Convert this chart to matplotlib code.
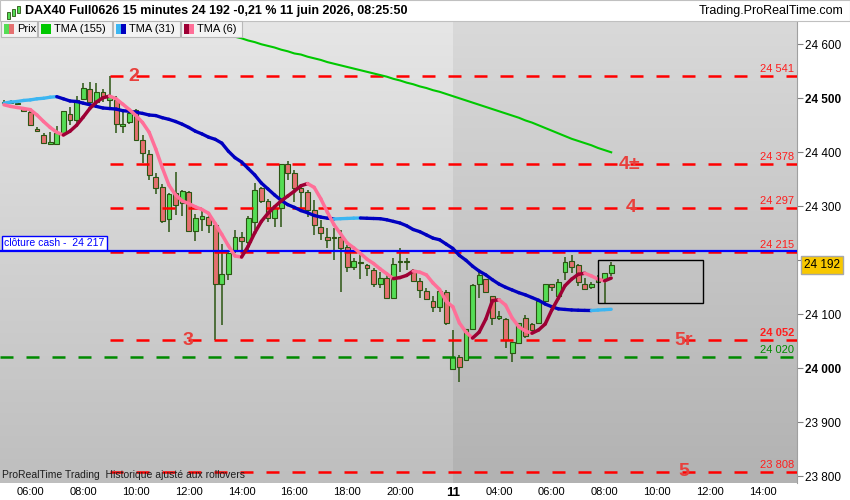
import numpy as np
import matplotlib.pyplot as plt
from matplotlib.collections import LineCollection
from matplotlib.patches import Rectangle

plt.rcParams['font.family'] = ['Liberation Sans', 'DejaVu Sans']

# DAX40 15 min bars: 10 juin 05:00 -> 21:45, then 11 juin 02:15 -> 08:15
opens = [24491, 24494, 24491, 24480, 24474, 24443, 24432, 24415, 24415, 24436,
         24470, 24459, 24498, 24517, 24494, 24512, 24497, 24497, 24449, 24456,
         24478, 24423, 24396, 24355, 24336, 24276, 24324, 24306, 24327, 24255,
         24277, 24281, 24265, 24157, 24175, 24218, 24243, 24234, 24270, 24333,
         24309, 24278, 24296, 24378, 24361, 24333, 24327, 24293, 24262, 24244,
         24241, 24244, 24224, 24188, 24195, 24191, 24182, 24157, 24168, 24130,
         24196, 24197, 24182, 24162, 24143, 24125, 24114, 24142, 23998, 24021,
         24015, 24072, 24157, 24165, 24133, 24093, 24091, 24029, 24047, 24094,
         24082, 24083, 24125, 24156, 24134, 24179, 24199, 24191, 24157, 24150,
         24160, 24164, 24176]
highs = [24497, 24497, 24494, 24484, 24476, 24447, 24436, 24438, 24449, 24476,
         24484, 24504, 24528, 24530, 24528, 24517, 24541, 24505, 24481, 24481,
         24481, 24432, 24404, 24361, 24341, 24324, 24363, 24330, 24328, 24286,
         24292, 24290, 24271, 24231, 24219, 24256, 24253, 24282, 24344, 24336,
         24313, 24302, 24378, 24384, 24368, 24336, 24330, 24312, 24275, 24259,
         24259, 24256, 24228, 24204, 24213, 24193, 24185, 24179, 24173, 24204,
         24222, 24204, 24183, 24167, 24148, 24134, 24145, 24145, 24071, 24025,
         24072, 24156, 24179, 24166, 24134, 24107, 24093, 24049, 24083, 24099,
         24083, 24126, 24157, 24157, 24165, 24207, 24210, 24193, 24167, 24160,
         24172, 24177, 24196]
lows = [24486, 24489, 24487, 24474, 24448, 24437, 24415, 24414, 24415, 24432,
        24451, 24454, 24496, 24491, 24483, 24494, 24483, 24435, 24435, 24452,
        24423, 24380, 24349, 24322, 24269, 24253, 24284, 24282, 24253, 24236,
        24255, 24250, 24052, 24080, 24164, 24213, 24213, 24213, 24256, 24306,
        24271, 24261, 24261, 24349, 24308, 24296, 24280, 24247, 24238, 24222,
        24200, 24142, 24179, 24182, 24165, 24170, 24151, 24148, 24129, 24129,
        24179, 24182, 24160, 24130, 24126, 24105, 24105, 24080, 23998, 23975,
        24013, 24070, 24130, 24139, 24080, 24089, 24037, 24012, 24046, 24056,
        24068, 24082, 24120, 24144, 24131, 24163, 24176, 24152, 24145, 24146,
        24158, 24120, 24170]
closes = [24494, 24492, 24489, 24476, 24450, 24439, 24417, 24419, 24436, 24476,
          24459, 24497, 24519, 24494, 24512, 24502, 24502, 24452, 24452, 24472,
          24423, 24398, 24358, 24334, 24273, 24323, 24302, 24329, 24255, 24278,
          24282, 24265, 24157, 24175, 24213, 24243, 24236, 24278, 24331, 24309,
          24278, 24296, 24378, 24361, 24333, 24327, 24293, 24265, 24250, 24238,
          24244, 24222, 24187, 24199, 24196, 24185, 24157, 24167, 24130, 24193,
          24197, 24198, 24162, 24145, 24128, 24113, 24143, 24083, 24021, 24002,
          24072, 24154, 24173, 24141, 24094, 24097, 24052, 24048, 24083, 24059,
          24071, 24125, 24156, 24150, 24160, 24196, 24187, 24160, 24146, 24157,
          24166, 24176, 24192]

tma6 = [24488, 24485, 24483, 24481, 24479, 24469, 24457, 24446, 24437, 24432,
        24439, 24450, 24465, 24481, 24493, 24501, 24504, 24499, 24489, 24479,
        24468, 24455, 24437, 24406, 24371, 24339, 24321, 24310, 24305, 24299,
        24294, 24287, 24268, 24248, 24227, 24208, 24206, 24226, 24251, 24272,
        24287, 24299, 24310, 24319, 24328, 24338, 24342, 24335, 24314, 24289,
        24266, 24249, 24232, 24223, 24213, 24202, 24194, 24184, 24175, 24166,
        24168, 24172, 24180, 24178, 24173, 24158, 24146, 24124, 24114, 24084,
        24067, 24056, 24067, 24091, 24125, 24127, 24117, 24093, 24077, 24069,
        24065, 24071, 24082, 24108, 24130, 24153, 24165, 24174, 24176, 24171,
        24165, 24162, 24167]
tma31 = [24491, 24493, 24494, 24496, 24497, 24499, 24500, 24502, 24503, 24499,
         24495, 24494, 24491, 24488, 24485, 24482, 24481, 24480, 24477, 24476,
         24474, 24472, 24469, 24468, 24464, 24461, 24457, 24452, 24446, 24439,
         24434, 24428, 24424, 24417, 24402, 24390, 24382, 24370, 24358, 24343,
         24332, 24321, 24311, 24303, 24298, 24292, 24288, 24283, 24280, 24278,
         24276.5, 24277, 24277.5, 24278, 24278.3, 24277.8, 24277.4, 24277, 24275, 24272,
         24269, 24264, 24257, 24253, 24247, 24241, 24238, 24230, 24222, 24209,
         24200, 24189, 24180, 24173, 24164, 24156, 24150, 24145, 24140, 24136,
         24131, 24126, 24119, 24114, 24110, 24109, 24108, 24107.5, 24107.2, 24107,
         24107.8, 24108.6, 24109.3]
tma155_start = 32
tma155 = [24625, 24621, 24618, 24614, 24611, 24607, 24604, 24600, 24597, 24594,
          24590, 24587, 24583, 24581, 24577, 24574, 24571, 24567, 24564, 24561,
          24558, 24555, 24552, 24549, 24546, 24543, 24540, 24536, 24533, 24529,
          24526, 24522, 24519, 24515, 24512, 24508, 24504, 24500, 24496, 24492,
          24488, 24484, 24480, 24476, 24472, 24468, 24464, 24459, 24455, 24450,
          24445, 24440, 24435, 24430, 24425, 24421, 24417, 24413, 24408, 24404,
          24400]

red_levels = [24541, 24378, 24297, 24215, 24052, 23808]
red_level_text = ['24 541', '24 378', '24 297', '24 215', '24 052', '23 808']
green_level = 24020
cash_close = 24217
last_price = 24192

# big level marks: (text, level)
marks = [('2', 24541), ('3', 24052), ('4±', 24378), ('4', 24297), ('5r', 24052), ('5', 23808)]
mark_x = [19.7, 27.9, 94.8, 95.0, 102.9, 103.0]

tick_idx = [4, 12, 20, 28, 36, 44, 52, 60, 68, 75, 83, 91, 99, 107, 115]
tick_lbl = ['06:00', '08:00', '10:00', '12:00', '14:00', '16:00', '18:00', '20:00',
            '11', '04:00', '06:00', '08:00', '10:00', '12:00', '14:00']
day_break = 68

fig = plt.figure(figsize=(8.5, 5), dpi=100, facecolor='white')
ax = fig.add_axes([0, 17/500, 797/850, 462/500])
xmin, xmax = -0.6, 120.15
ymin, ymax = 23787.6, 24643.1
ax.set_xlim(xmin, xmax)
ax.set_ylim(ymin, ymax)

# gradient backgrounds (previous day lighter, current day darker)
g = np.linspace(0, 1, 200)[:, None, None]
def shade(top, bot):
    top = np.array(top) / 255
    bot = np.array(bot) / 255
    return top + (bot - top) * g
ax.imshow(shade((230, 230, 230), (190, 190, 190)), extent=[xmin, day_break, ymin, ymax],
          aspect='auto', zorder=0)
ax.imshow(shade((217, 217, 217), (178, 178, 178)), extent=[day_break, xmax, ymin, ymax],
          aspect='auto', zorder=0)

# candles
x = np.arange(len(opens))
o = np.array(opens, float)
c = np.array(closes, float)
up = c >= o
edge = '#2b5512'
ax.vlines(x, lows, highs, color=edge, lw=1.1, zorder=3)
ax.bar(x, np.maximum(np.abs(c - o), 1.8), bottom=np.minimum(o, c), width=0.74,
       color=np.where(up, '#55dd55', '#e57070'), edgecolor=edge, linewidth=0.8, zorder=3.2)

# levels
for lv in red_levels:
    ax.hlines(lv, 16, xmax, colors='#ff0000', lw=1.8, linestyles=(0, (5.2, 5.2)), zorder=3.5)
ax.axhline(green_level, color='#008a00', lw=1.8, ls=(0, (5.2, 5.2)), zorder=3.5)
ax.axhline(cash_close, color='#0000ff', lw=1.6, zorder=4.5)

for lv, t in zip(red_levels, red_level_text):
    ax.annotate(t, xy=(1, lv), xycoords=('axes fraction', 'data'), xytext=(-2, 1.5),
                textcoords='offset points', ha='right', va='bottom', fontsize=8,
                color='#ff1e1e', fontweight='bold' if lv == 24052 else 'normal', zorder=6)
ax.annotate('24 020', xy=(1, green_level), xycoords=('axes fraction', 'data'), xytext=(-2, 1.5),
            textcoords='offset points', ha='right', va='bottom', fontsize=8, color='#008a00', zorder=6)

for (t, lv), mx in zip(marks, mark_x):
    ax.text(mx, lv, t, color='#e8403c', fontsize=14, fontweight='bold', ha='center',
            va='center', zorder=6)

# moving averages, colour by slope
def two_tone(xs, ys, c_up, c_down, lw):
    pts = np.column_stack([xs, ys])
    segs = np.stack([pts[:-1], pts[1:]], axis=1)
    cols = [c_up if b >= a else c_down for a, b in zip(ys[:-1], ys[1:])]
    ax.add_collection(LineCollection(segs, colors=cols, linewidths=lw,
                                     capstyle='round', joinstyle='round', zorder=5))

ax.plot(np.arange(tma155_start, tma155_start + len(tma155)), tma155, color='#00c800', lw=1.5, zorder=5)
two_tone(x, np.array(tma31), '#3cb6f2', '#0000c0', 2.4)
two_tone(x, np.array(tma6), '#9e0035', '#ff6f98', 2.5)

# drawing box
ax.add_patch(Rectangle((90, 24121), 15.9, 79.6, fill=False, ec='black', lw=1, zorder=6))

ax.annotate('clôture cash -  24 217', xy=(0, cash_close), xycoords=('axes fraction', 'data'),
            xytext=(3, 2.5), textcoords='offset points', ha='left', va='bottom', fontsize=7.5,
            color='#0000ff', zorder=7,
            bbox=dict(boxstyle='square,pad=0.2', fc='white', ec='#0000ff', lw=1))

ax.text(0.003, 0.017, 'ProRealTime Trading  Historique ajusté aux rollovers', transform=ax.transAxes,
        fontsize=7.5, color='#1e1e1e', va='center', zorder=7)

# axes
for s in ['top', 'left', 'bottom']:
    ax.spines[s].set_visible(False)
ax.spines['right'].set_color('#a0a0a0')
ax.yaxis.tick_right()
yt = np.arange(23800, 24601, 100)
ax.set_yticks(yt, [f'{v:,}'.replace(',', ' ') for v in yt])
ax.tick_params(axis='y', labelsize=8.5, length=4, color='#808080', pad=2)
for lab, v in zip(ax.get_yticklabels(), yt):
    if v in (24000, 24500):
        lab.set_fontweight('bold')
ax.set_xticks(tick_idx, tick_lbl)
ax.tick_params(axis='x', labelsize=8, length=0, pad=3)
for lab in ax.get_xticklabels():
    if lab.get_text() == '11':
        lab.set_fontweight('bold')
        lab.set_fontsize(9.5)

ax.annotate(f'{last_price:,}'.replace(',', ' '), xy=(1, last_price), xycoords=('axes fraction', 'data'),
            xytext=(5, 0), textcoords='offset points', ha='left', va='center', fontsize=8.5,
            color='black', zorder=8, annotation_clip=False,
            bbox=dict(boxstyle='square,pad=0.25', fc='#f8c800', ec='#a8a8a8', lw=1))

# header
fig.add_artist(Rectangle((0, 1 - 21/500), 1, 21/500, transform=fig.transFigure,
                         fc='white', ec='#c0c0c0', lw=0.8))
fig.text(25/850, 1 - 11/500, 'DAX40 Full0626 15 minutes 24 192 -0,21 % 11 juin 2026, 08:25:50',
         fontsize=9, fontweight='bold', va='center')
fig.text(843/850, 1 - 11/500, 'Trading.ProRealTime.com', fontsize=9, ha='right', va='center')
for cx, cy, h, col in [(7, 12, 7, '#55dd55'), (12, 9, 7, '#55dd55'), (17, 6, 7, '#55dd55')]:
    fig.add_artist(Rectangle((cx/850, 1 - (cy + h)/500), 3/850, h/500, transform=fig.transFigure,
                             fc=col, ec=edge, lw=0.6))

# legend tabs
tabs = [(1, 37, 'Prix', ['#55dd55', '#e57070']),
        (38, 112, 'TMA (155)', ['#00c800']),
        (113, 180, 'TMA (31)', ['#3cb6f2', '#0000c0']),
        (181, 242, 'TMA (6)', ['#9e0035', '#ff6f98'])]
for x0, x1, t, cols in tabs:
    fig.add_artist(Rectangle((x0/850, 1 - 37/500), (x1 - x0)/850, 16/500,
                             transform=fig.transFigure, fc='#f3f3f3', ec='#b8b8b8', lw=0.8))
    w = 10 / len(cols)
    for k, col in enumerate(cols):
        fig.add_artist(Rectangle(((x0 + 3 + k*w)/850, 1 - 34/500), w/850, 10/500,
                                 transform=fig.transFigure, fc=col, ec='none'))
    fig.text((x0 + 16)/850, 1 - 29/500, t, fontsize=8, va='center')

fig.savefig('out.png', dpi=100)
